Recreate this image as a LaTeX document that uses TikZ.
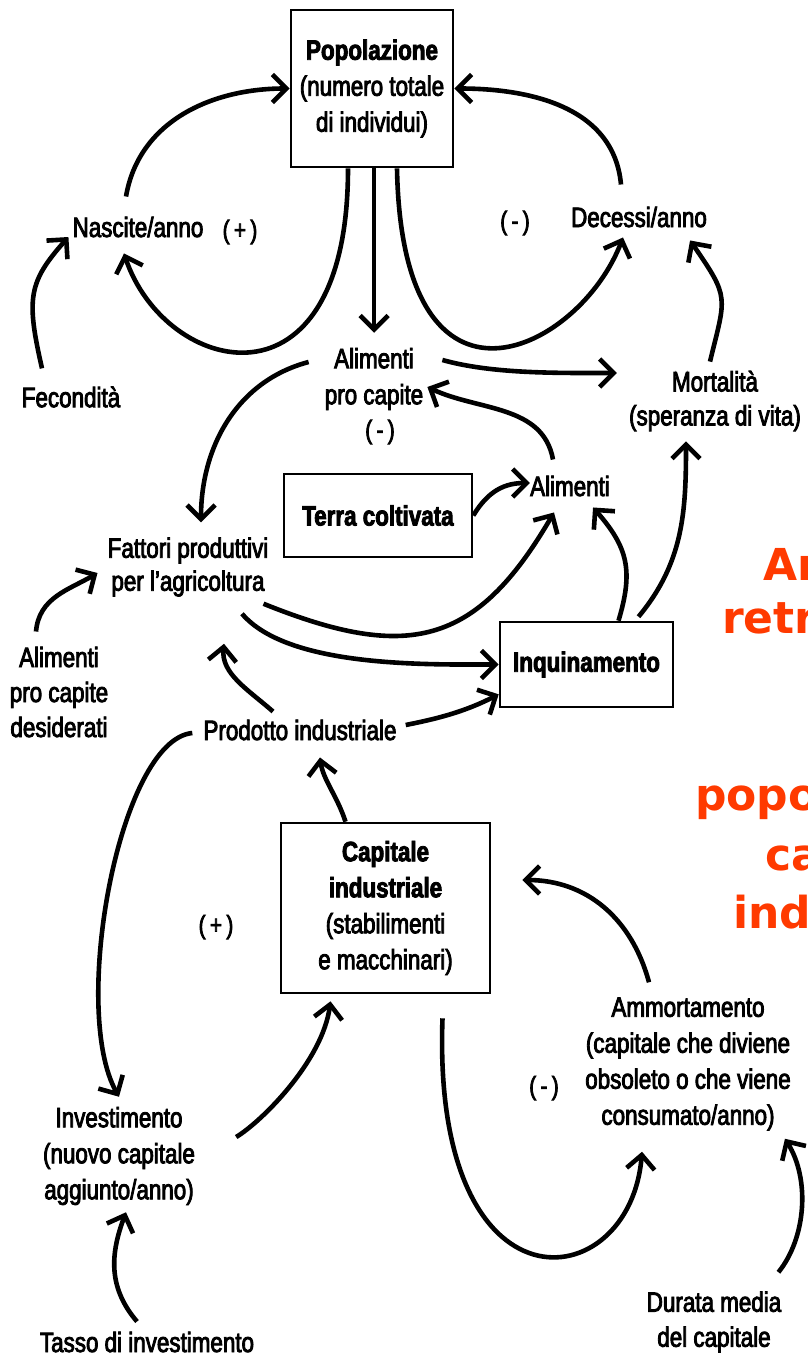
\documentclass[tikz,border=0pt]{standalone}
\usepackage{fontspec}
\setmainfont[FakeStretch=0.8, FakeBold=3]{Liberation Sans}
\newfontfamily\titolofont{DejaVu Sans}
\usepackage{xcolor}
\usetikzlibrary{arrows.meta}
\definecolor{arancio}{HTML}{FF3A00}
\tikzstyle{voce} = [align=center, 
inner sep=3pt, 
font=\fontsize{28}{36}\selectfont]
\tikzstyle{blocco} = [rectangle, 
draw=black, 
line width=2.6pt, 
align=center, 
inner sep=0pt, 
font=\fontsize{28}{36}\selectfont]
\tikzstyle{segno} = [inner sep=0pt, font=\fontsize{26}{30}\selectfont]
\tikzstyle{freccia} = [line width=4.6pt, -{Straight Barb[length=14pt, width=28pt]}]
\tikzstyle{titolo} = [anchor=base west, inner sep=0pt, text=arancio, 
font=\titolofont\bfseries\fontsize{44}{52}\selectfont]

\begin{document}
\begin{tikzpicture}[x=1pt, y=-1pt]
        \fill[white] (0,0) rectangle (807,1359);
        \useasboundingbox (0,0) rectangle (807,1359);

        % --- Nodi: variabili di stato (riquadri) ---
        \node (pop) [blocco, minimum width=162pt, minimum height=157pt] at (372,88.5) {\textbf{Popolazione}\\(numero totale\\di individui)};
        \node (terra) [blocco, minimum width=188pt, minimum height=83pt] at (378,515.5) {\textbf{Terra coltivata}};
        \node (inq) [blocco, minimum width=173pt, minimum height=85pt] at (586.5,664.5) {\textbf{Inquinamento}};
        \node (cap) [blocco, minimum width=209pt, minimum height=170pt] at (385.5,908) {\textbf{Capitale}\\\textbf{industriale}\\(stabilimenti\\e macchinari)};

        % --- Nodi: flussi e fattori ---
        \node (nasc) [voce] at (138,227) {Nascite/anno};
        \node (dec) [voce] at (639,217) {Decessi/anno};
        \node (fec) [voce] at (71,397) {Fecondità};
        \node (mort) [voce, font=\fontsize{28}{34}\selectfont] at (715,401) {Mortalità\\(speranza di vita)};
        \node (apc) [voce] at (374,379) {Alimenti\\pro capite};
        \node (alim) [voce] at (570,486) {Alimenti};
        \node (fatt) [voce, font=\fontsize{28}{33}\selectfont] at (188,567) {Fattori produttivi\\per l'agricoltura};
        \node (apcd) [voce, font=\fontsize{28}{35}\selectfont] at (59,692) {Alimenti\\pro capite\\desiderati};
        \node (prod) [voce] at (300,730) {Prodotto industriale};
        \node (inv) [voce] at (119,1156) {Investimento\\(nuovo capitale\\aggiunto/anno)};
        \node (tasso) [voce] at (147,1342) {Tasso di investimento};
        \node (amm) [voce] at (688,1064) {Ammortamento\\(capitale che diviene\\obsoleto o che viene\\consumato/anno)};
        \node (dur) [voce, font=\fontsize{28}{35}\selectfont] at (714,1322) {Durata media\\del capitale};

        % Segni dei cicli
        \node (piu1) [segno] at (240,232) {(\,+\,)};
        \node (meno1) [segno] at (515,223) {(\,-\,)};
        \node (meno2) [segno] at (380,432) {(\,-\,)};
        \node (piu2) [segno] at (216,927) {(\,+\,)};
        \node (meno3) [segno] at (544,1088) {(\,-\,)};

        % Titolo (tagliato dal bordo destro)
        \node (tit1) [titolo] at (763,580) {Ar};
        \node (tit2) [titolo] at (722,633) {retr};
        \node (tit3) [titolo] at (695,810) {popo};
        \node (tit4) [titolo] at (765,870) {ca};
        \node (tit5) [titolo] at (733,928) {ind};

        % --- Ciclo della popolazione ---
        \draw [freccia] ([shift={(-12,-17)}]nasc.north) .. controls +(13,-76) and +(-77,0) .. (pop.west);
        \draw [freccia] ([shift={(-18,-19)}]dec.north) .. controls +(-7,-77) and +(77,0) .. (pop.east);
        \draw [freccia] ([shift={(-24,0)}]pop.south) .. controls +(0,253) and +(41,122) .. ([shift={(-14,13)}]nasc.south);
        \draw [freccia] (apc.north |- pop.south) -- ([shift={(0,-12)}]apc.north);
        \draw [freccia] ([shift={(25,0)}]pop.south) .. controls +(5,273) and +(-43,113) .. ([shift={(-16,7)}]dec.south);
        \draw [freccia] ([shift={(-29,-15)}]fec.north) .. controls +(-16,-70) and +(-40,45) .. ([shift={(-1,10)}]nasc.west);
        \draw [freccia] ([shift={(-5,-6)}]mort.north) .. controls +(16,-66) and +(40,58) .. ([shift={(-20,10)}]dec.south east);

        % --- Alimenti e agricoltura ---
        \draw [freccia] ([shift={(16,-19)}]apc.east) .. controls +(50,14) and +(-60,0) .. ([shift={(-9,-28)}]mort.west);
        \draw [freccia] ([shift={(-17,-13)}]alim.north) .. controls +(-10,-55) and +(51,24) .. ([shift={(1,8)}]apc.east);
        \draw [freccia] ([shift={(-13,-17)}]apc.west) .. controls +(-72,19) and +(0,-75) .. ([shift={(13,-12)}]fatt.north);
        \draw [freccia] (terra.east) .. controls +(15,-25) and +(-25,0) .. ([shift={(3,-3)}]alim.west);
        \draw [freccia] ([shift={(-8,4)}]fatt.south east) .. controls +(144,58) and +(-78,134) .. ([shift={(-16,13)}]alim.south);
        \draw [freccia] ([shift={(54,14)}]fatt.south) .. controls +(46,54) and +(-71,0) .. (inq.west);
        \draw [freccia] ([shift={(-23,-12)}]apcd.north) .. controls +(3,-34) and +(-29,17) .. ([shift={(-7,6)}]fatt.west);

        % --- Inquinamento ---
        \draw [freccia] ([shift={(32,0)}]inq.north) .. controls +(15,-50) and +(35,40) .. ([shift={(-20,8)}]alim.south east);
        \draw [freccia] ([shift={(52,-4)}]inq.north) .. controls +(45,-54) and +(0,70) .. ([shift={(-29,7)}]mort.south);

        % --- Prodotto industriale ---
        \draw [freccia] ([shift={(-27,-5)}]prod.north) .. controls +(-25,-22) and +(-3,30) .. ([shift={(36,44)}]fatt.south);
        \draw [freccia] ([shift={(6,-5)}]prod.east) .. controls +(30,-6) and +(-35,18) .. ([shift={(0,-14)}]inq.south west);
        \draw [freccia] ([shift={(-8,3)}]prod.west) .. controls +(-73,7) and +(-49,-87) .. ([shift={(0,-7)}]inv.north);

        % --- Ciclo del capitale ---
        \draw [freccia] ([shift={(-40,0)}]cap.north) .. controls +(-8,-25) and +(3,22) .. ([shift={(20,14)}]prod.south);
        \draw [freccia] ([shift={(38,-19)}]inv.east) .. controls +(25,-15) and +(-8,60) .. ([shift={(-55,7)}]cap.south);
        \draw [freccia] ([shift={(-10,-7)}]tasso.north) .. controls +(-30,-35) and +(-15,40) .. ([shift={(7,4)}]inv.south);
        \draw [freccia] ([shift={(-39,-12)}]amm.north) .. controls +(-17,-63) and +(65,0) .. ([shift={(31,-28)}]cap.east);
        \draw [freccia] ([shift={(57,24)}]cap.south) .. controls +(-11,303) and +(-12,147) .. ([shift={(-46,18)}]amm.south);
        \draw [freccia] ([shift={(-6,-16)}]dur.north east) .. controls +(28,-35) and +(25,40) .. ([shift={(-9,5)}]amm.south east);

    \end{tikzpicture}
\end{document}
